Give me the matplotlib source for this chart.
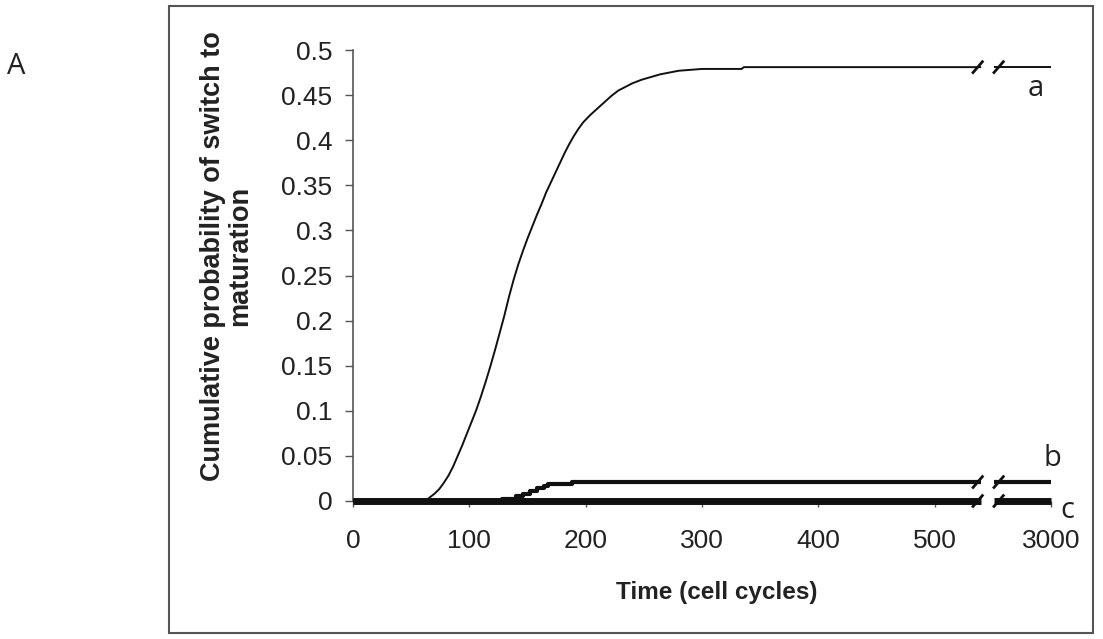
import matplotlib.pyplot as plt
from matplotlib.patches import Rectangle

# Curve a: cumulative probability
time_a = [0, 60, 63, 66, 70, 74, 78, 82, 86, 90, 94, 98, 102, 106, 110, 114, 118,
          122, 126, 130, 134, 138, 142, 146, 150, 154, 158, 162, 166, 170, 174,
          178, 182, 186, 190, 194, 198, 204, 210, 216, 222, 228, 234, 240, 248,
          256, 264, 272, 280, 290, 300, 334, 336, 540]
prob_a = [0, 0, 0.001, 0.004, 0.008, 0.013, 0.020, 0.028, 0.038, 0.050, 0.062,
          0.075, 0.088, 0.101, 0.116, 0.132, 0.149, 0.167, 0.186, 0.205, 0.226,
          0.245, 0.262, 0.277, 0.291, 0.304, 0.317, 0.329, 0.342, 0.353, 0.364,
          0.375, 0.386, 0.396, 0.405, 0.413, 0.420, 0.428, 0.435, 0.442, 0.449,
          0.455, 0.459, 0.463, 0.467, 0.470, 0.473, 0.475, 0.477, 0.478, 0.479,
          0.479, 0.481, 0.481]

# Curve b
time_b = [0, 125, 128, 140, 146, 152, 158, 164, 168, 186, 188, 540]
prob_b = [0, 0, 0.002, 0.005, 0.008, 0.011, 0.014, 0.017, 0.019, 0.019, 0.021, 0.021]

# Curve c stays at zero
time_c = [0, 540]
prob_c = [0, 0]

final_time = 3000
x_ticks = [0, 100, 200, 300, 400, 500, 3000]
y_ticks = [0, 0.05, 0.1, 0.15, 0.2, 0.25, 0.3, 0.35, 0.4, 0.45, 0.5]

# axis positions of the break
break_lo = 541
break_hi = 551


def axis_pos(t):
    # the last tick (3000) sits one step after 500
    return 600 if t == final_time else t


fig = plt.figure(figsize=(11.03, 6.39), dpi=100)
fig.patches.append(Rectangle((169 / 1103, 1 - 633 / 639), (1093 - 169) / 1103,
                             (633 - 6) / 639, transform=fig.transFigure,
                             fill=False, edgecolor="#555555", lw=1.5))

ax = fig.add_axes([353 / 1103, 138 / 639, 698 / 1103, 451 / 639])

curves = [(time_a, prob_a, 1.4, "default"), (time_b, prob_b, 3.0, "steps-post"),
          (time_c, prob_c, 5.0, "default")]
for t, p, lw, ds in curves:
    xs = [min(v, break_lo) for v in t]
    ax.plot(xs, p, color="#111111", lw=lw, drawstyle=ds,
            solid_capstyle="butt", clip_on=False, zorder=3)
    ax.plot([break_hi, axis_pos(final_time)], [p[-1], p[-1]], color="#111111",
            lw=lw, solid_capstyle="butt", clip_on=False, zorder=3)
    # break marks
    for x0 in (break_lo - 8, break_hi):
        ax.plot([x0, x0 + 8], [p[-1] - 0.006, p[-1] + 0.006], color="#111111",
                lw=2, clip_on=False, zorder=4)

ax.text(587, 0.481 - 0.024, "a", fontsize=21, family="Open Sans", ha="center",
        va="center", color="#222222")
ax.text(601, 0.021 + 0.026, "b", fontsize=21, family="Open Sans", ha="center",
        va="center", color="#222222")
ax.text(614, -0.010, "c", fontsize=21, family="Open Sans", ha="center",
        va="center", color="#222222")

ax.set_xlim(0, 600)
ax.set_ylim(0, 0.5)
ax.set_xticks([axis_pos(v) for v in x_ticks])
ax.set_xticklabels([str(v) for v in x_ticks])
ax.set_yticks(y_ticks)
ax.set_yticklabels(["0" if v == 0 else f"{v:g}" for v in y_ticks])

for s in ("top", "right", "bottom"):
    ax.spines[s].set_visible(False)
ax.spines["left"].set_color("#555555")
ax.spines["left"].set_linewidth(1.2)

ax.tick_params(axis="y", length=6, width=1, color="#555555", pad=9,
               labelsize=19, labelcolor="#222222")
ax.tick_params(axis="x", length=4, width=1, color="#555555", pad=16,
               labelsize=19, labelcolor="#222222")
for lab in ax.get_xticklabels() + ax.get_yticklabels():
    lab.set_family("Liberation Sans")

fig.text(717 / 1103, 1 - 593 / 639, "Time (cell cycles)", fontsize=17.5,
         fontweight="bold", family="Liberation Sans", ha="center", va="center",
         color="#222222")
fig.text(227 / 1103, 1 - 256 / 639, "Cumulative probability of switch to\nmaturation",
         fontsize=19.5, fontweight="bold", family="Liberation Sans", rotation=90,
         ha="center", va="center", multialignment="center", linespacing=1.05,
         color="#222222")

fig.text(16 / 1103, 1 - 66 / 639, "A", fontsize=21, family="Open Sans",
         ha="center", va="center", color="#222222")

fig.savefig("out.png", dpi=100)
